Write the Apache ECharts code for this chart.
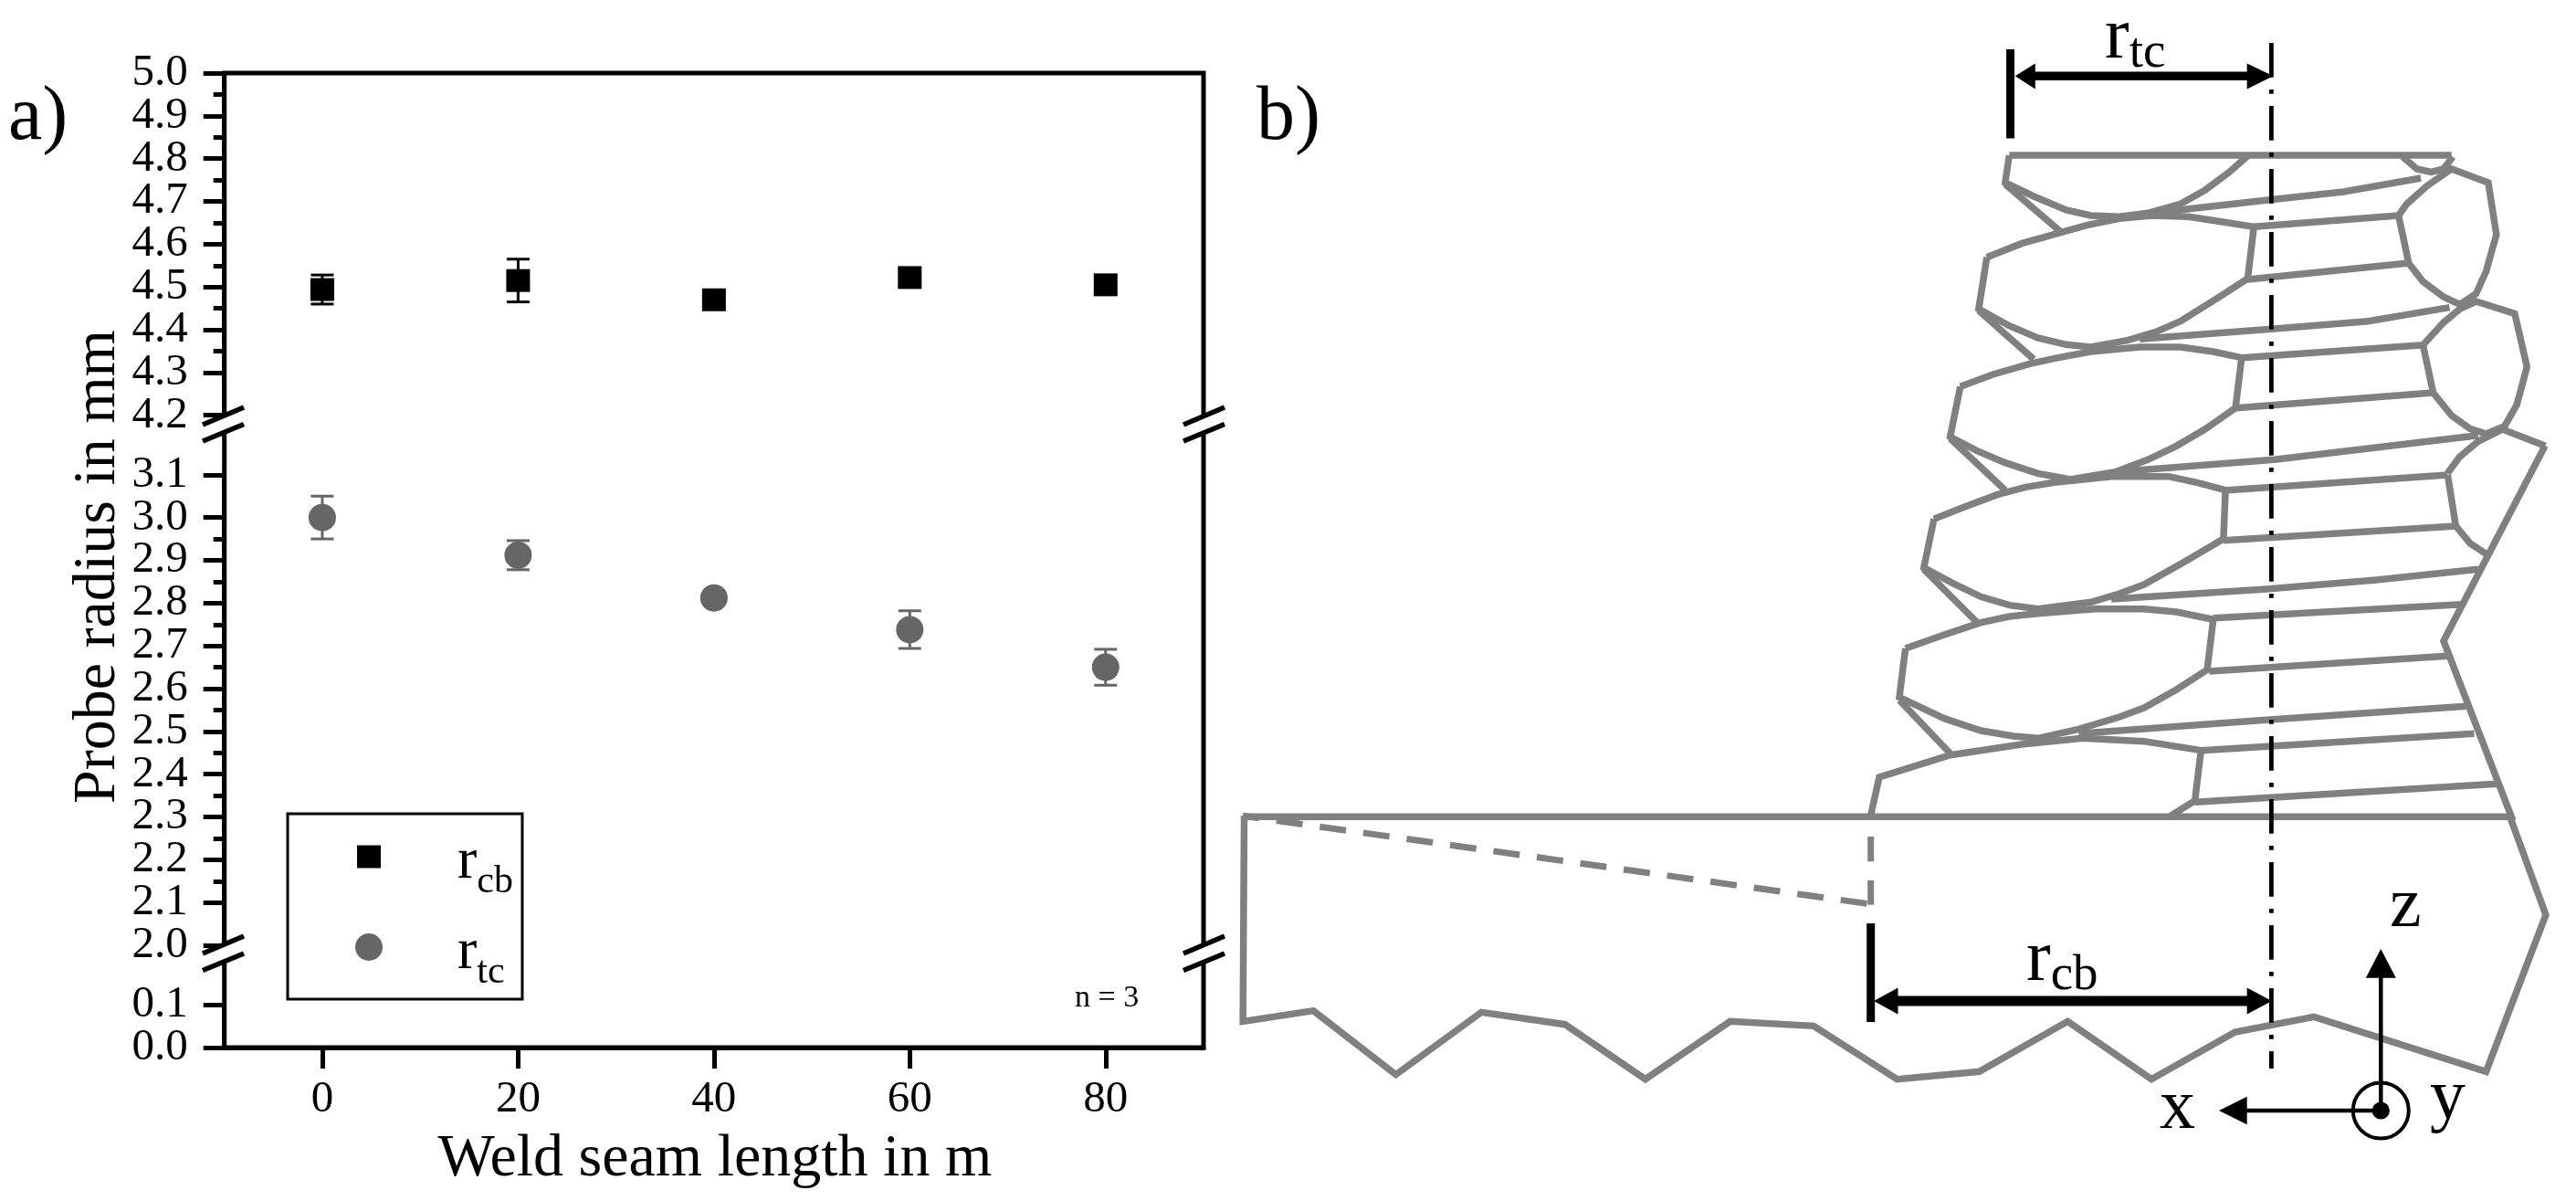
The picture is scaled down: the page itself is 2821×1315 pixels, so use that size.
<!DOCTYPE html>
<html><head><meta charset="utf-8">
<style>html,body{margin:0;padding:0;background:#fff}#c{width:2821px;height:1315px}</style>
<script src="https://cdn.jsdelivr.net/npm/echarts@6/dist/echarts.min.js"></script>
</head><body><div id="c"></div>
<script>
// ---- chart values ----
const weldLength = [0, 20, 40, 60, 80];
const rcbValues = [4.494, 4.515, 4.47, 4.522, 4.505];
const rcbErrors = [0.034, 0.05, 0.015, 0.02, 0.02];
const rtcValues = [3.0, 2.912, 2.812, 2.738, 2.65];
const rtcErrors = [0.05, 0.034, 0.015, 0.044, 0.042];
const xTicks = [0, 20, 40, 60, 80];
const yEndTicks = [0, 5];
const yBreaks = [[0.1, 2.0], [3.1, 4.2]];

const c6 = p => p.map(([x, y]) => [2120 + x / 2.24, 150 + y / 3]);
const c7 = p => p.map(([x, y]) => [2080 + x / 2.24, 500 + y / 3]);
const c8 = p => p.map(([x, y]) => [2000 + x / 1.91, 880 + y / 3]);
const c9 = p => p.map(([x, y]) => [1350 + x / 2.24, 880 + y / 3]);

const grainLines = [
  c6([[180,60],[1265,60]]),
  c6([[180,60],[170,150],[240,195],[320,240],[380,258],[450,262],[520,250],[600,220],[660,175],[720,115],[765,62]]),
  c6([[170,155],[305,310]]),
  c6([[1145,65],[1180,105],[1215,115],[1245,105],[1268,65]]),
  c6([[540,248],[830,205],[1000,180],[1190,135]]),
  c6([[125,395],[210,350],[290,320],[370,290],[450,268],[530,258],[620,262],[700,278],[780,295],[765,465],[690,530],[600,605],[540,640],[470,668],[380,690],[320,682],[250,660],[180,620],[105,565],[125,395]]),
  c6([[780,295],[1135,258]]),
  c6([[765,468],[1155,415]]),
  c6([[1135,258],[1155,220],[1205,160],[1265,105],[1355,150],[1375,320],[1350,440],[1325,515],[1285,550],[1245,525],[1195,475],[1160,415],[1135,258]]),
  c6([[105,570],[240,730]]),
  c6([[500,664],[830,630],[1060,605],[1260,560]]),
  c6([[60,820],[140,780],[230,745],[300,725],[380,705],[500,690],[600,690],[680,705],[750,725],[735,890],[660,960],[590,1015],[520,1060],[440,1100],[330,1125],[250,1105],[170,1070],[100,1030],[35,985],[60,820]]),
  c6([[750,725],[1195,683]]),
  c6([[735,890],[1220,840]]),
  c6([[1195,683],[1245,610],[1285,565],[1325,540],[1420,580],[1450,755],[1425,880],[1395,950],[1350,975],[1310,958],[1265,915],[1220,840],[1195,683]]),
  c6([[35,990],[170,1160]]),
  c6([[440,1100],[830,1060],[1330,980]]),
  c7([[85,205],[160,165],[240,125],[310,100],[380,85],[520,65],[660,65],[730,85],[800,110],[795,270],[700,345],[600,420],[540,450],[470,478],[340,500],[270,488],[200,460],[130,415],[60,365],[85,205]]),
  c7([[805,110],[1345,60]]),
  c7([[795,275],[1365,228]]),
  c6([[1255,1105],[1285,1050],[1330,1000],[1390,960],[1495,1015]]),
  c7([[1345,60],[1365,228],[1400,285],[1440,320]]),
  c7([[1584,-36],[1335,605],[1505,1195]]),
  c7([[520,468],[900,435],[1170,405],[1420,370]]),
  c7([[770,530],[1380,485]]),
  c7([[15,630],[110,585],[200,545],[270,525],[340,515],[480,500],[600,500],[680,510],[770,535],[755,700],[680,765],[600,825],[540,855],[440,895],[340,925],[280,918],[200,900],[110,860],[0,790],[15,630]]),
  c7([[760,705],[1345,655]]),
  c7([[60,370],[195,550]]),
  c7([[0,800],[125,975]]),
  c7([[440,910],[900,865],[1390,820]]),
  c7([[740,965],[1410,910]]),
  [[2048.4,894],[2058,851]].concat(c7([[125,980],[300,945],[450,925],[600,935],[740,965],[725,1130],[665,1180]])),
  c7([[725,1135],[1465,1075]])
];
const plateLines = [
  c9([[25,43],[1568,43]]).concat(c8([[1430,43]])),
  c8([[1430,43],[1505,365],[1380,880],[1020,700],[855,750],[680,905],[505,715],[320,880],[148,905]]).concat(c9([[1425,730],[1220,715],[1012,905],[815,725],[610,685],[400,890],[198,680],[25,715],[28,40]]))
];
const dashedSlope = c9([[25,40]]).concat(c8([[93,330]]));
const dashedEdge = [c8([[93,108],[93,190]]), c8([[93,252],[93,332]])];
const centerLine = [[2487.4, 47], [2487.4, 1170]];
const capBars = [[[2201.6, 54], [2201.6, 151.5]], [[2048.7, 1011], [2048.7, 1119]]];
const radiusArrows = [[[2225, 83.3], [2465, 83.3]], [[2075, 1096], [2465, 1096]]];
const arrowHeads = [
  [[2206.8,83.3],[2228.8,69.5],[2228.8,97.5]], [[2489.5,83.3],[2460.7,69.5],[2460.7,97.5]],
  [[2052,1096],[2078.5,1081.5],[2078.5,1110.5]], [[2488,1096],[2460.7,1081.5],[2460.7,1110.5]],
  [[2607.3,1039],[2590.8,1070.7],[2623.8,1070.7]], [[2430,1216],[2460.7,1200.7],[2460.7,1231.3]]
];
const axesCross = [[[2607.3,1216],[2607.3,1068]], [[2607.3,1216],[2458,1216]]];
const ySymbol = [2607.3, 1216];

// axis-break slashes (left and right spine, two breaks each)
const slashX = [[222, 267], [1296, 1341]];
const slashY = [[465, 446], [483, 464.5], [1044, 1025], [1062.5, 1044]];

const GREY = '#808080', DARK = '#666666', SERIF = '"Liberation Serif", "Times New Roman", serif';

function buildShapes() {
  const s = [];
  slashX.forEach(xs => [0, 2].forEach(i => {
    s.push({ k: 'polygon', pts: [[xs[0], slashY[i][0]], [xs[1], slashY[i][1]], [xs[1], slashY[i + 1][1]], [xs[0], slashY[i + 1][0]]], fill: '#fff' });
    s.push({ k: 'line', pts: [[xs[0], slashY[i][0]], [xs[1], slashY[i][1]]], c: '#000', w: 5.5 });
    s.push({ k: 'line', pts: [[xs[0], slashY[i + 1][0]], [xs[1], slashY[i + 1][1]]], c: '#000', w: 5.5 });
  }));
  grainLines.forEach(p => s.push({ k: 'line', pts: p, c: GREY, w: 7.5 }));
  plateLines.forEach(p => s.push({ k: 'line', pts: p, c: GREY, w: 7.5 }));
  s.push({ k: 'line', pts: dashedSlope, c: GREY, w: 7, dash: [29, 19], off: 11 });
  dashedEdge.forEach(p => s.push({ k: 'line', pts: p, c: GREY, w: 7 }));
  s.push({ k: 'line', pts: centerLine, c: '#000', w: 4.8, dash: [37.7, 13.3, 4.7, 13.3] });
  capBars.forEach(p => s.push({ k: 'line', pts: p, c: '#000', w: 9 }));
  radiusArrows.forEach((p, i) => s.push({ k: 'line', pts: p, c: '#000', w: i ? 11 : 9.5 }));
  arrowHeads.forEach(p => s.push({ k: 'polygon', pts: p, fill: '#000' }));
  axesCross.forEach(p => s.push({ k: 'line', pts: p, c: '#000', w: 4.5 }));
  s.push({ k: 'ring', at: ySymbol, r: 30.5 });
  s.push({ k: 'dot', at: ySymbol, r: 9.6 });
  return s;
}
const shapes = buildShapes();

function errData(vals, errs) { return weldLength.map((x, i) => [x, vals[i], errs[i]]); }
function errRender(color) {
  return function (params, api) {
    const x = api.value(0), y = api.value(1), e = api.value(2);
    const hi = api.coord([x, y + e]), lo = api.coord([x, y - e]);
    const cap = 12.5;
    const st = { stroke: color, lineWidth: 3, fill: null };
    return { type: 'group', children: [
      { type: 'line', shape: { x1: hi[0], y1: hi[1], x2: lo[0], y2: lo[1] }, style: st },
      { type: 'line', shape: { x1: hi[0] - cap, y1: hi[1], x2: hi[0] + cap, y2: hi[1] }, style: st },
      { type: 'line', shape: { x1: lo[0] - cap, y1: lo[1], x2: lo[0] + cap, y2: lo[1] }, style: st }
    ] };
  };
}
function renderShape(params, api) {
  const o = shapes[api.value(0)];
  if (o.k === 'line') return { type: 'polyline', shape: { points: o.pts.map(p => api.coord(p)) },
    style: { stroke: o.c, lineWidth: o.w, fill: null, lineDash: o.dash || null, lineDashOffset: o.off || 0, lineJoin: 'miter', lineCap: 'butt' } };
  if (o.k === 'polygon') return { type: 'polygon', shape: { points: o.pts.map(p => api.coord(p)) }, style: { fill: o.fill } };
  const c = api.coord(o.at);
  if (o.k === 'ring') return { type: 'circle', shape: { cx: c[0], cy: c[1], r: o.r }, style: { fill: null, stroke: '#000', lineWidth: 4 } };
  return { type: 'circle', shape: { cx: c[0], cy: c[1], r: o.r }, style: { fill: '#000' } };
}
const sym = { r: { fontSize: 80, fontFamily: SERIF, color: '#000', lineHeight: 80, verticalAlign: 'top' },
              s: { fontSize: 55, fontFamily: SERIF, color: '#000', lineHeight: 55, padding: [29, 0, 0, 0], verticalAlign: 'top' } };
function label(text, left, top, size) {
  return { text, left, top, padding: 0, textStyle: { fontFamily: SERIF, fontWeight: 'normal', fontSize: size, color: '#000', rich: sym } };
}
const yLabelStyle = { margin: 40, fontFamily: SERIF, fontSize: 49, color: '#000', formatter: v => v.toFixed(1) };
const yScale = { type: 'value', min: 0, max: 5, interval: 0.1, position: 'left',
  breaks: yBreaks.map(b => ({ start: b[0], end: b[1], gap: 0.139 })),
  breakArea: { show: false, expandOnClick: false }, splitLine: { show: false } };
const chart = echarts.init(document.getElementById('c'), null, { renderer: 'canvas' });
chart.setOption({
  animation: false, backgroundColor: '#fff',
  title: [
    label('a)', 9, 88, 84), label('b)', 1376, 88, 84), label('n = 3', 1177, 1076, 34),
    label('{r|r}{s|tc}', 2305, 2, 80), label('{r|r}{s|cb}', 2219, 1012, 80),
    label('z', 2617, 955, 78), label('x', 2365, 1176, 78), label('y', 2661, 1165, 78)
  ],
  legend: {
    left: 315, top: 891, orient: 'vertical', data: [
      { name: 'rcb', icon: 'path://M0 0M30 30M2 2.5H28V27.5H2Z' }, { name: 'rtc', icon: 'circle' }],
    itemWidth: 30, itemHeight: 30, itemGap: 18, padding: [15, 10, 8, 74],
    borderColor: '#000', borderWidth: 3, backgroundColor: 'transparent',
    selectedMode: false,
    formatter: n => '{r|r}{s|' + n.slice(1) + '}',
    textStyle: { rich: {
      r: { fontSize: 64, fontFamily: SERIF, color: '#000', lineHeight: 64, verticalAlign: 'top', padding: [6, 0, 0, 77] },
      s: { fontSize: 42, fontFamily: SERIF, color: '#000', lineHeight: 42, padding: [39, 0, 0, 0], verticalAlign: 'top' }
    } }
  },
  grid: [
    { left: 245.7, top: 80, width: 1072.3, height: 1067, show: true, borderColor: '#000', borderWidth: 5, backgroundColor: 'transparent', containLabel: false, outerBoundsMode: 'none' },
    { left: 0, top: 0, width: 2821, height: 1315, show: false, outerBoundsMode: 'none' }
  ],
  xAxis: [
    { gridIndex: 0, type: 'value', min: -10, max: 90, position: 'bottom',
      name: 'Weld seam length in m', nameLocation: 'middle', nameGap: 90,
      nameTextStyle: { fontFamily: SERIF, fontSize: 66, color: '#000', padding: [0, 0, 0, 2] },
      splitLine: { show: false },
      axisLine: { show: true, onZero: false, lineStyle: { color: '#000', width: 5 } },
      axisTick: { show: true, length: 23, customValues: xTicks, lineStyle: { color: '#000', width: 5 } },
      axisLabel: { customValues: xTicks, margin: 33, fontFamily: SERIF, fontSize: 49, color: '#000' } },
    { gridIndex: 1, type: 'value', min: 0, max: 2821, show: false }
  ],
  yAxis: [
    Object.assign({}, yScale, { gridIndex: 0,
      name: 'Probe radius in mm', nameLocation: 'middle', nameGap: 102,
      nameTextStyle: { fontFamily: SERIF, fontSize: 66, color: '#000', padding: [0, 14, 0, 0] },
      axisLine: { show: true, onZero: false, lineStyle: { color: '#000', width: 5 } },
      axisTick: { show: true, length: 23, lineStyle: { color: '#000', width: 5 } },
      minorTick: { show: true, splitNumber: 2, length: 12, lineStyle: { color: '#000', width: 5 } },
      axisLabel: Object.assign({}, yLabelStyle, { showMinLabel: false, showMaxLabel: false }) }),
    { gridIndex: 1, type: 'value', min: 0, max: 1315, inverse: true, show: false },
    // same scale again, carrying only the two end labels that the main axis would drop as "overlapping"
    Object.assign({}, yScale, { gridIndex: 0,
      axisLine: { show: false, onZero: false }, axisTick: { show: false },
      axisLabel: Object.assign({}, yLabelStyle, { customValues: yEndTicks }) })
  ],
  series: [
    { type: 'custom', name: 'rcbErr', xAxisIndex: 0, yAxisIndex: 0, z: 3, silent: true, renderItem: errRender('#000'), data: errData(rcbValues, rcbErrors) },
    { type: 'custom', name: 'rtcErr', xAxisIndex: 0, yAxisIndex: 0, z: 3, silent: true, renderItem: errRender(DARK), data: errData(rtcValues, rtcErrors) },
    { type: 'scatter', name: 'rcb', xAxisIndex: 0, yAxisIndex: 0, z: 4, symbol: 'rect', symbolSize: [26, 25], itemStyle: { color: '#000', opacity: 1 }, data: weldLength.map((x, i) => [x, rcbValues[i]]) },
    { type: 'scatter', name: 'rtc', xAxisIndex: 0, yAxisIndex: 0, z: 4, symbol: 'circle', symbolSize: 30, itemStyle: { color: DARK, opacity: 1 }, data: weldLength.map((x, i) => [x, rtcValues[i]]) },
    { type: 'custom', name: 'schematic', xAxisIndex: 1, yAxisIndex: 1, z: 5, silent: true, clip: false, renderItem: renderShape, data: shapes.map((o, i) => [i, 0]) }
  ]
});
</script></body></html>
